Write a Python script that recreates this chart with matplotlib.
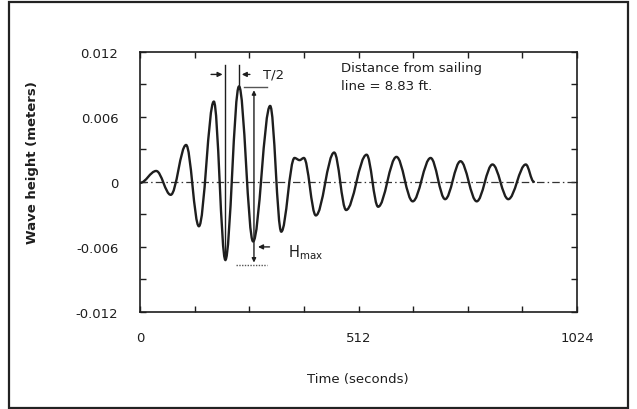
import matplotlib
matplotlib.use("Agg")
import matplotlib.pyplot as plt
from matplotlib.path import Path
from matplotlib.patches import PathPatch, Rectangle

# ---- data (extrema of the wave record) ----
time_s = [0, 38, 72, 108, 138, 173, 200, 232, 265, 305, 331, 362, 374, 384,
          412, 455, 483, 531, 558, 601, 639, 681, 715, 751, 789, 826, 863, 904, 923]
height_m = [-0.0001, 0.0010, -0.0012, 0.0034, -0.0041, 0.0074, -0.0072, 0.0088,
            -0.0055, 0.0070, -0.0046, 0.0022, 0.0020, 0.0022, -0.0031, 0.0027,
            -0.0026, 0.0025, -0.0023, 0.0023, -0.0018, 0.0022, -0.0016, 0.0019,
            -0.0018, 0.0016, -0.0016, 0.0016, 0.0]

x_ticks = [0, 512, 1024]
x_tick_labels = ["0", "512", "1024"]
y_ticks = [-0.012, -0.006, 0, 0.006, 0.012]
y_tick_labels = ["-0.012", "-0.006", "0", "0.006", "0.012"]
x_minor = [128, 256, 384, 640, 768, 896]
y_minor = [-0.009, -0.003, 0.003, 0.009]

ink = "#1e1e1e"
font = "DejaVu Sans"

fig = plt.figure(figsize=(6.37, 4.10), dpi=100)
fig.patch.set_facecolor("white")

# outer frame
fig.patches.append(Rectangle((0.0141, 0.002), 0.9718, 0.9905, transform=fig.transFigure,
                             fill=False, edgecolor="#222222", linewidth=1.6))

ax = fig.add_axes([0.2198, 0.2366, 0.686, 0.635])
ax.set_xlim(0, 1024)
ax.set_ylim(-0.012, 0.012)

# smooth wave: cubic Bezier between successive extrema (horizontal tangents)
k = 0.3642
verts = [(time_s[0], height_m[0])]
codes = [Path.MOVETO]
for i in range(len(time_s) - 1):
    t0, h0, t1, h1 = time_s[i], height_m[i], time_s[i + 1], height_m[i + 1]
    dt = t1 - t0
    verts += [(t0 + k * dt, h0), (t1 - k * dt, h1), (t1, h1)]
    codes += [Path.CURVE4] * 3
ax.add_patch(PathPatch(Path(verts, codes), fill=False, edgecolor=ink, lw=1.7,
                       capstyle="round", joinstyle="round", zorder=3))

# zero line (dash-dot)
ax.axhline(0, color="#333333", lw=0.9, linestyle=(0, (6, 2.5, 1.2, 2.5)), zorder=2)

# T/2 annotation
i_tr, i_pk = 6, 7
ax.plot([time_s[i_tr]] * 2, [0.0108, height_m[i_tr]], color=ink, lw=1.0)
ax.plot([time_s[i_pk]] * 2, [0.0108, height_m[i_pk]], color=ink, lw=1.0)
ax.annotate("", xy=(time_s[i_tr], 0.0099), xytext=(time_s[i_tr] - 40, 0.0099),
            arrowprops=dict(arrowstyle="-|>", color=ink, lw=1.0, mutation_scale=7))
ax.annotate("", xy=(time_s[i_pk], 0.0099), xytext=(time_s[i_pk] + 32, 0.0099),
            arrowprops=dict(arrowstyle="-|>", color=ink, lw=1.0, mutation_scale=7))
ax.text(288, 0.0099, "T/2", fontsize=9.5, family=font, va="center", ha="left", color=ink)

# H_max annotation
ax.plot([244, 298], [0.0087, 0.0087], color="#555555", lw=1.0)
ax.plot([225, 298], [-0.0077, -0.0077], color="#555555", lw=1.0, linestyle=(0, (1, 1)))
ax.annotate("", xy=(267, 0.0087), xytext=(267, -0.0077),
            arrowprops=dict(arrowstyle="<|-|>", color=ink, lw=1.0, mutation_scale=6))
ax.annotate("", xy=(270, -0.0060), xytext=(310, -0.0060),
            arrowprops=dict(arrowstyle="-|>", color=ink, lw=1.0, mutation_scale=7))
ax.text(346, -0.0064, r"$\mathregular{H_{max}}$", fontsize=10.5, family=font,
        va="center", ha="left", color=ink)

# distance note
ax.text(471, 0.0097, "Distance from sailing\nline = 8.83 ft.", fontsize=9.5, family=font,
        va="center", ha="left", color=ink, linespacing=1.55)

# axes styling
for s in ax.spines.values():
    s.set_color(ink)
    s.set_linewidth(1.2)
ax.set_xticks(x_ticks)
ax.set_xticklabels(x_tick_labels)
ax.set_yticks(y_ticks)
ax.set_yticklabels(y_tick_labels)
ax.set_xticks(x_minor, minor=True)
ax.set_yticks(y_minor, minor=True)
ax.tick_params(axis="both", which="both", direction="in", length=4, width=1.0,
               color=ink, top=True, right=True)
ax.tick_params(axis="x", which="major", pad=13.5, labelsize=9.5, labelcolor=ink)
ax.tick_params(axis="y", which="major", pad=15.5, labelsize=9.5, labelcolor=ink)
for lab in ax.get_xticklabels() + ax.get_yticklabels():
    lab.set_family(font)

ax.set_xlabel("Time (seconds)", fontsize=9.5, family=font, color=ink)
ax.xaxis.set_label_coords(0.499, -0.257)
ax.xaxis.label.set_va("center")
ax.set_ylabel("Wave height (meters)", fontsize=9.5, family=font, color=ink,
              fontweight="bold")
ax.yaxis.set_label_coords(-0.245, 0.578)
ax.yaxis.label.set_va("center")

fig.savefig("out.png", dpi=100, facecolor="white")
